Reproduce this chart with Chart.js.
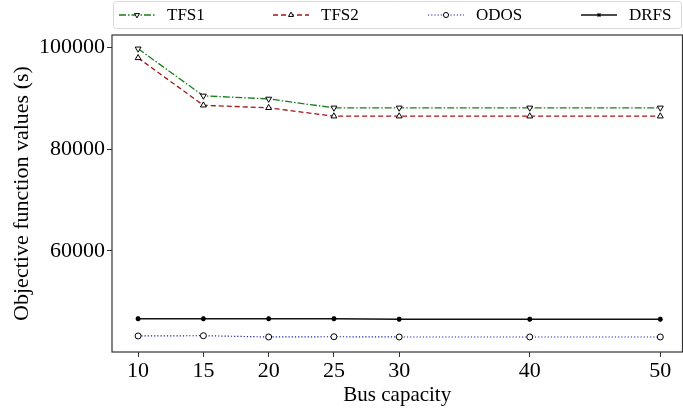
<!DOCTYPE html>
<html>
<head>
<meta charset="utf-8">
<script src="https://cdn.jsdelivr.net/npm/chart.js@4/dist/chart.umd.min.js"></script>
<style>
  html, body { margin: 0; padding: 0; background: #fff; overflow: hidden; }
  #wrap { width: 688px; height: 411px; }
</style>
</head>
<body>
<div id="wrap"><canvas id="chart"></canvas></div>
<script>
// data
var capacity = [10, 15, 20, 25, 30, 40, 50];
var tfs1 = [99700, 90450, 89850, 88100, 88100, 88100, 88100];
var tfs2 = [97900, 88600, 88100, 86450, 86450, 86450, 86450];
var odos = [43300, 43350, 43100, 43150, 43100, 43100, 43100];
var drfs = [46700, 46700, 46700, 46700, 46600, 46600, 46600];
var yTicks = [60000, 80000, 100000];

var serif = "'Liberation Serif', 'DejaVu Serif', serif";

function pts(arr) {
  return capacity.map(function (c, i) { return { x: c, y: arr[i] }; });
}

// frame round the plot area, like the axes box
var framePlugin = {
  id: 'frame',
  afterDatasetsDraw: function (chart) {
    var a = chart.chartArea, ctx = chart.ctx;
    ctx.save();
    ctx.strokeStyle = '#333';
    ctx.lineWidth = 1.2;
    ctx.strokeRect(a.left, a.top, a.right - a.left, a.bottom - a.top);
    ctx.restore();
  }
};

// legend drawn with line samples (dash + marker), in one row above the plot
var legendPlugin = {
  id: 'lineLegend',
  afterDraw: function (chart) {
    var ctx = chart.ctx;
    ctx.save();
    ctx.fillStyle = '#fff';
    ctx.strokeStyle = '#d8d8d8';
    ctx.lineWidth = 1;
    ctx.beginPath();
    ctx.roundRect(113.5, 1.5, 568, 27, 3);
    ctx.fill();
    ctx.stroke();
    var starts = [119, 273, 428, 581];
    chart.data.datasets.forEach(function (ds, i) {
      var x0 = starts[i], y = 15;
      ctx.strokeStyle = ds.borderColor;
      ctx.lineWidth = ds.borderWidth;
      ctx.setLineDash(ds.borderDash || []);
      ctx.beginPath();
      ctx.moveTo(x0, y);
      ctx.lineTo(x0 + 36, y);
      ctx.stroke();
      ctx.setLineDash([]);
      ctx.fillStyle = ds.pointBackgroundColor;
      ctx.strokeStyle = ds.pointBorderColor;
      ctx.lineWidth = 1;
      Chart.helpers.drawPoint(ctx, {
        pointStyle: ds.pointStyle,
        rotation: ds.pointRotation || 0,
        radius: ds.pointRadius * 0.85,
        borderWidth: 1
      }, x0 + 18, y);
      ctx.fillStyle = '#000';
      ctx.font = '17px ' + serif;
      ctx.textBaseline = 'middle';
      ctx.fillText(ds.label, x0 + 48, y + 1);
    });
    ctx.restore();
  }
};

Chart.defaults.font.family = serif;
Chart.defaults.color = '#000';

new Chart(document.getElementById('chart'), {
  type: 'line',
  data: {
    datasets: [{
      label: 'TFS1',
      data: pts(tfs1),
      borderColor: '#1b7d1b',
      borderWidth: 1.3,
      borderDash: [7, 2, 1.5, 2],
      pointStyle: 'triangle',
      pointRotation: 180,
      pointRadius: 3.4,
      pointBorderWidth: 1,
      pointBorderColor: '#000',
      pointBackgroundColor: '#fff'
    }, {
      label: 'TFS2',
      data: pts(tfs2),
      borderColor: '#a51515',
      borderWidth: 1.3,
      borderDash: [5, 3],
      pointStyle: 'triangle',
      pointRadius: 3.4,
      pointBorderWidth: 1,
      pointBorderColor: '#000',
      pointBackgroundColor: '#fff'
    }, {
      label: 'ODOS',
      data: pts(odos),
      borderColor: '#1a1ab8',
      borderWidth: 1.2,
      borderDash: [1.2, 2],
      pointStyle: 'circle',
      pointRadius: 3,
      pointBorderWidth: 1,
      pointBorderColor: '#000',
      pointBackgroundColor: '#fff'
    }, {
      label: 'DRFS',
      data: pts(drfs),
      borderColor: '#111',
      borderWidth: 1.5,
      pointStyle: 'star',
      pointRadius: 2.5,
      pointBorderWidth: 1.5,
      pointBorderColor: '#000',
      pointBackgroundColor: '#000'
    }]
  },
  options: {
    responsive: true,
    maintainAspectRatio: false,
    animation: false,
    layout: { padding: { top: 35, right: 1, left: 0, bottom: 0 } },
    plugins: {
      legend: { display: false },
      tooltip: { enabled: false }
    },
    scales: {
      x: {
        type: 'linear',
        min: 8,
        max: 51.7,
        afterBuildTicks: function (scale) {
          scale.ticks = capacity.map(function (v) { return { value: v }; });
        },
        afterFit: function (scale) {
          scale.height = 59;
          scale.paddingLeft = 0;
          scale.paddingRight = 0;
        },
        grid: { display: true, drawOnChartArea: false, tickLength: 5, color: '#333' },
        border: { display: false },
        ticks: { font: { size: 22 }, padding: 1, maxRotation: 0 },
        title: { display: true, text: 'Bus capacity', font: { size: 21 }, padding: { top: 0, bottom: 3 } }
      },
      y: {
        min: 40150,
        max: 102400,
        afterBuildTicks: function (scale) {
          scale.ticks = yTicks.map(function (v) { return { value: v }; });
        },
        afterFit: function (scale) {
          scale.width = 112;
          scale.paddingTop = 0;
          scale.paddingBottom = 0;
        },
        grid: { display: true, drawOnChartArea: false, tickLength: 5, color: '#333' },
        border: { display: false },
        ticks: { font: { size: 22 }, padding: 2, callback: function (v) { return String(v); } },
        title: { display: true, text: 'Objective function values (s)', font: { size: 22 }, padding: { top: 9, bottom: 0 } }
      }
    }
  },
  plugins: [framePlugin, legendPlugin]
});
</script>
</body>
</html>
